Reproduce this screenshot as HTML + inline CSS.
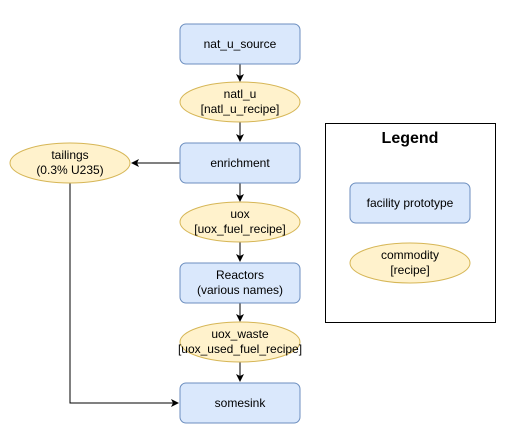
<!DOCTYPE html>
<html><head><style>body{margin:0;background:#fff}</style></head><body>
<svg width="507" height="433" xmlns="http://www.w3.org/2000/svg" font-family="Liberation Sans, sans-serif" font-size="12" text-anchor="middle">
<defs><marker id="a" markerWidth="8" markerHeight="8" refX="7" refY="4" orient="auto" markerUnits="userSpaceOnUse"><path d="M0,0 L8,4 L0,8 L2,4 z" fill="#000"/></marker></defs>
<g stroke="#000" fill="none" stroke-width="1">
<line x1="240" y1="63" x2="240" y2="81" marker-end="url(#a)"/>
<line x1="240" y1="121" x2="240" y2="141" marker-end="url(#a)"/>
<line x1="180" y1="163" x2="132" y2="163" marker-end="url(#a)"/>
<line x1="240" y1="183" x2="240" y2="201" marker-end="url(#a)"/>
<line x1="240" y1="241" x2="240" y2="261" marker-end="url(#a)"/>
<line x1="240" y1="303" x2="240" y2="321" marker-end="url(#a)"/>
<line x1="240" y1="361" x2="240" y2="381" marker-end="url(#a)"/>
<polyline points="70,183 70,403 178,403" marker-end="url(#a)"/>
</g>
<g fill="#dae8fc" stroke="#6c8ebf">
<rect x="180" y="24" width="120" height="40" rx="6"/>
<rect x="180" y="143" width="120" height="40" rx="6"/>
<rect x="180" y="263" width="120" height="40" rx="6"/>
<rect x="180" y="383" width="120" height="40" rx="6"/>
<rect x="350" y="183" width="120" height="40" rx="6"/>
</g>
<g fill="#fff2cc" stroke="#d6b656">
<ellipse cx="240" cy="102" rx="60" ry="20"/>
<ellipse cx="70" cy="163" rx="60" ry="20"/>
<ellipse cx="240" cy="222" rx="60" ry="20"/>
<ellipse cx="240" cy="342" rx="60" ry="20"/>
<ellipse cx="410" cy="263" rx="60" ry="20"/>
</g>
<rect x="325.5" y="123.5" width="170" height="199" fill="none" stroke="#000"/>
<text x="410" y="143" font-size="16" font-weight="bold">Legend</text>
<text x="240" y="48">nat_u_source</text>
<text x="240" y="98">natl_u</text><text x="240" y="113">[natl_u_recipe]</text>
<text x="70" y="159">tailings</text><text x="70" y="174">(0.3% U235)</text>
<text x="240" y="167">enrichment</text>
<text x="240" y="218">uox</text><text x="240" y="233">[uox_fuel_recipe]</text>
<text x="240" y="279">Reactors</text><text x="240" y="294">(various names)</text>
<text x="240" y="338">uox_waste</text><text x="240" y="353">[uox_used_fuel_recipe]</text>
<text x="240" y="407">somesink</text>
<text x="410" y="207">facility prototype</text>
<text x="410" y="259">commodity</text><text x="410" y="274">[recipe]</text>
</svg>
</body></html>
